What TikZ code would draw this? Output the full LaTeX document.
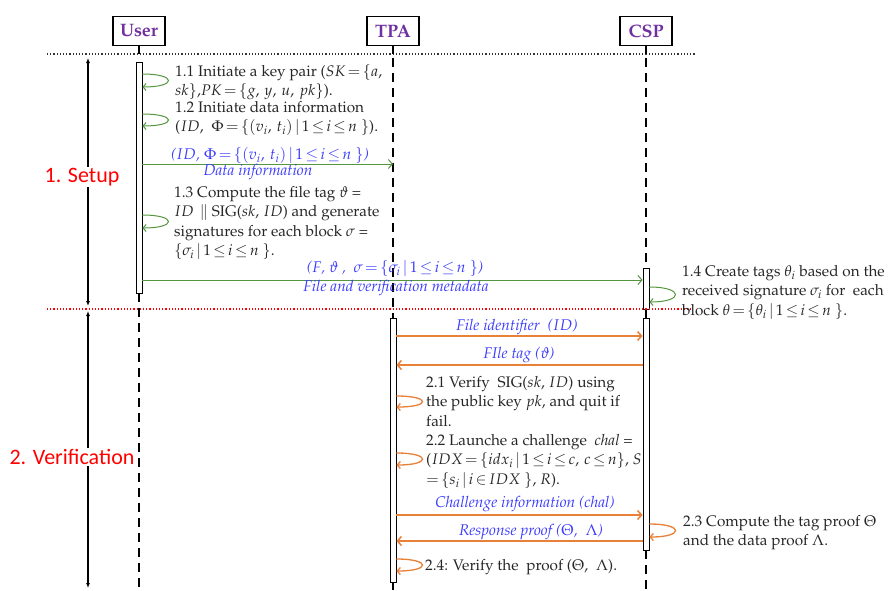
\documentclass[tikz,border=0pt]{standalone}
\usepackage[no-math]{fontspec}
\newfontfamily\calib{Carlito}
\usepackage[T1]{fontenc}
\usepackage{mathpazo}
\usetikzlibrary{arrows.meta}
\definecolor{grn}{RGB}{84,150,62}
\definecolor{org}{RGB}{232,128,56}
\definecolor{lblue}{RGB}{60,60,255}
\definecolor{purp}{RGB}{112,48,160}
\tikzset{
  head/.style={draw, line width=1.3pt, minimum width=52pt, minimum height=29pt, inner sep=0pt,
    text=purp, font=\fontsize{18}{20}\selectfont\bfseries},
  act/.style={draw, line width=0.9pt, fill=white, minimum width=6pt, inner sep=0pt},
  life/.style={line width=1.3pt, dash pattern=on 9pt off 6pt},
  tick/.style={line width=1.3pt},
  msgG/.style={grn, line width=1pt, -{Straight Barb[length=4pt,width=9pt]}},
  msgO/.style={org, line width=1.5pt, -{Straight Barb[length=4pt,width=9pt]}},
  loopG/.style={grn, line width=1pt, -{Straight Barb[length=3pt,width=7pt]}},
  loopO/.style={org, line width=1.3pt, -{Straight Barb[length=3pt,width=7pt]}},
  lbl/.style={text=lblue, inner sep=0pt, font=\fontsize{15.5}{17}\selectfont\itshape},
  note/.style={align=left, anchor=north west, inner sep=0pt, text=black!85, font=\fontsize{15.3}{19.4}\selectfont},
  phase/.style={text=red, fill=white, inner sep=1pt, font=\calib\fontsize{22}{24}\selectfont},
  span/.style={line width=1.2pt, {Latex[length=5pt,width=4pt]}-{Latex[length=5pt,width=4pt]}}
}
\begin{document}
\thickmuskip=2.5mu plus 1mu
\medmuskip=1.5mu plus 1mu
\begin{tikzpicture}[x=1pt,y=-1pt]
\useasboundingbox (0,0) rectangle (893,590);
% separators
\draw[line width=1.2pt, dotted, black!80] (47,54) -- (695,54);
% headers
\node[head] (user) at (139,31) {User};
\node[head] (tpa) at (393,31) {TPA};
\node[head] (csp) at (646,31) {CSP};
% bottom coordinates
\coordinate (ubot) at (139,590);
\coordinate (tbot) at (393,590);
\coordinate (cbot) at (646,590);
\coordinate (ttop) at (393,58);
\coordinate (ctop) at (646,58);
% lifelines
\draw[tick] (user.south) -- (139,54);
\draw[tick] (tpa.south) -- (393,54);
\draw[tick] (csp.south) -- (646,54);
\node[act, minimum height=231pt] (ua) at (139,177.5) {};
\node[act, minimum height=264pt] (ta) at (393,450) {};
\node[act, minimum height=41pt] (ca1) at (646,288.5) {};
\node[act, minimum height=232pt] (ca2) at (646,434) {};
\draw[life] (ua.south) -- (ubot);
\draw[life] (ttop) -- (ta.north);
\draw[tick] (ta.south) -- (tbot);
\draw[life] (ctop) -- (ca1.north);
\draw[life] (ca1.south) -- (ca2.north);
\draw[life] (ca2.south) -- (cbot);
% red separator
\draw[line width=1.2pt, dotted, red] (47,309) -- (693,309);
% phase spans
\coordinate (s1) at (88,58);
\coordinate (s2) at (88,306);
\coordinate (s3) at (88,311);
\coordinate (s4) at (88,588);
\draw[span] (s1) -- (s2);
\draw[span] (s3) -- (s4);
\node[phase] (setup) at (82,177) {1. Setup};
\node[phase] (verif) at (72,457) {2. Verification};
% ---- Setup
\draw[loopG] (ua.east |- 0,74) .. controls (177,74) and (177,87) .. (ua.east |- 0,87);
\node[note] (n11) at (175,64) {1.1 Initiate a key pair ($SK=\{a,$\\$sk\}$,$PK=\{g,\,y,\,u,\,pk\}$).};
\draw[loopG] (ua.east |- 0,114) .. controls (177,114) and (177,126) .. (ua.east |- 0,126);
\node[note] (n12) at (175,101) {1.2 Initiate data information\\($ID$,\ \ $\Phi=\{(v_i,\,t_i)\mid 1\le i\le n\ \}$).};
\draw[msgG] (ua.east |- 0,164) -- (393,164) coordinate (m1e);
\node[lbl] (l1a) at (270,155) {($ID$, $\Phi=\{(v_i,\,t_i)\mid 1\le i\le n\ \}$)};
\node[lbl] (l1b) at (258,172) {Data information};
\draw[loopG] (ua.east |- 0,215) .. controls (177,215) and (177,228) .. (ua.east |- 0,228);
\node[note] (n13) at (174,186) {1.3 Compute the file tag $\vartheta$ =\\$ID\ \parallel$ SIG($sk$, $ID$) and generate\\signatures for each block $\sigma$ =\\$\{\sigma_i\mid 1\le i\le n\ \}$.};
\draw[msgG] (ua.east |- 0,280) -- (ca1.west |- 0,280);
\node[lbl] (l2a) at (395,268) {($F$, $\vartheta$ ,\ \ $\sigma=\{\sigma_i\mid 1\le i\le n\ \}$)};
\node[lbl] (l2b) at (396,288) {File and verification metadata};
\draw[loopG] (ca1.east |- 0,287) .. controls (684,287) and (684,302) .. (ca1.east |- 0,302);
\node[note] (n14) at (682,265) {1.4 Create tags $\theta_i$ based on the\\received signature $\sigma_i$ for\ \ each\\block $\theta=\{\theta_i\mid 1\le i\le n\ \}$.};
% ---- Verification
\draw[msgO] (ta.east |- 0,336) -- (ca2.west |- 0,336);
\node[lbl] (l3) at (517,327) {File identifier\ \ ($ID$)};
\draw[msgO] (ca2.west |- 0,365) -- (ta.east |- 0,365);
\node[lbl] (l4) at (519,355) {FIle tag ($\vartheta$)};
\draw[loopO] (ta.east |- 0,396) .. controls (431,396) and (431,407) .. (ta.east |- 0,407);
\node[note] (n21) at (426,376) {2.1 Verify\ \ SIG($sk$, $ID$) using\\the public key $pk$, and quit if\\fail.\\2.2 Launche a challenge\ \ $\mathit{chal}$\ =\\($IDX=\{idx_i\mid 1\le i\le c,\, c\le n\}$, $S$\\$=\{s_i\mid i\in IDX\ \}$, $R$).};
\draw[loopO] (ta.east |- 0,453) .. controls (431,453) and (431,465) .. (ta.east |- 0,465);
\draw[msgO] (ta.east |- 0,515) -- (ca2.west |- 0,515);
\node[lbl] (l5) at (525,504) {Challenge information ($\mathit{chal}$)};
\draw[msgO] (ca2.west |- 0,541) -- (ta.east |- 0,541);
\node[lbl] (l6) at (531,532) {Response proof ($\Theta$,\ \ $\Lambda$)};
\draw[loopO] (ca2.east |- 0,524) .. controls (684,524) and (684,537) .. (ca2.east |- 0,537);
\node[note] (n23) at (683,515) {2.3 Compute the tag proof $\Theta$\\and the data proof $\Lambda$.};
\draw[loopO] (ta.east |- 0,559) .. controls (431,559) and (431,571) .. (ta.east |- 0,571);
\node[note] (n24) at (425,559) {2.4: Verify the\ \ proof ($\Theta$,\ \ $\Lambda$).};
\end{tikzpicture}
\end{document}
